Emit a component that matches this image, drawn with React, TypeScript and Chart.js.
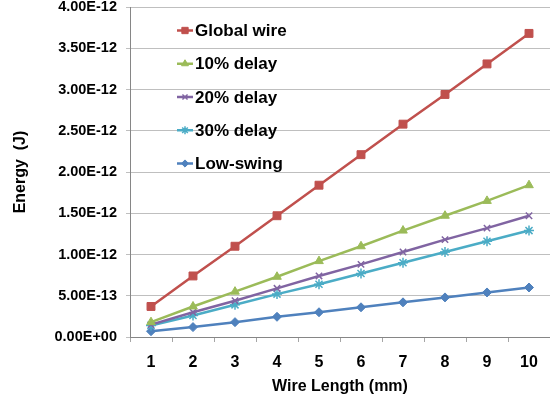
import React, { useEffect, useRef } from "react";
import { Chart, registerables } from "chart.js";
import { drawPoint } from "chart.js/helpers";

Chart.register(...registerables);

// Wire length in mm
const wireLengths = ["1", "2", "3", "4", "5", "6", "7", "8", "9", "10"];

// Energy per transfer in joules
const globalWire = [0.37e-12, 0.74e-12, 1.1e-12, 1.47e-12, 1.84e-12, 2.21e-12, 2.58e-12, 2.94e-12, 3.31e-12, 3.68e-12];
const delay10 = [0.18e-12, 0.37e-12, 0.55e-12, 0.73e-12, 0.92e-12, 1.1e-12, 1.29e-12, 1.47e-12, 1.65e-12, 1.84e-12];
const delay20 = [0.15e-12, 0.3e-12, 0.44e-12, 0.59e-12, 0.74e-12, 0.88e-12, 1.03e-12, 1.18e-12, 1.32e-12, 1.47e-12];
const delay30 = [0.14e-12, 0.26e-12, 0.39e-12, 0.52e-12, 0.64e-12, 0.77e-12, 0.9e-12, 1.03e-12, 1.16e-12, 1.29e-12];
const lowSwing = [0.07e-12, 0.12e-12, 0.18e-12, 0.245e-12, 0.3e-12, 0.36e-12, 0.42e-12, 0.48e-12, 0.54e-12, 0.6e-12];

const FONT = "'Liberation Sans', Arial, Helvetica, sans-serif";

function formatSci(v: number): string {
  const [mant, exp] = v.toExponential(2).split("e");
  const sign = exp.startsWith("-") ? "-" : "+";
  const digits = exp.replace(/[+-]/, "").padStart(2, "0");
  return `${mant}E${sign}${digits}`;
}

// Legend drawn inside the plot area, stacked in the upper-left corner
const insideLegend = {
  id: "insideLegend",
  afterDraw(chart: Chart) {
    const ctx = chart.ctx;
    const x0 = 177;
    const x1 = 193;
    const textX = 195;
    const startY = 30.5;
    const step = 33.25;
    ctx.save();
    chart.data.datasets.forEach((ds: any, i: number) => {
      const y = startY + i * step;
      ctx.strokeStyle = ds.borderColor;
      ctx.lineWidth = 2.5;
      ctx.beginPath();
      ctx.moveTo(x0, y);
      ctx.lineTo(x1, y);
      ctx.stroke();
      ctx.fillStyle = ds.borderColor;
      ctx.strokeStyle = ds.borderColor;
      ctx.lineWidth = ds.pointBorderWidth ?? 1;
      drawPoint(ctx, { pointStyle: ds.pointStyle, radius: ds.pointRadius * 0.8, borderWidth: ds.pointBorderWidth ?? 1, rotation: 0 } as any, (x0 + x1) / 2, y);
      ctx.fillStyle = "#000";
      ctx.font = `bold 17px ${FONT}`;
      ctx.textAlign = "left";
      ctx.textBaseline = "middle";
      ctx.fillText(ds.label, textX, y + 1);
    });
    ctx.restore();
  },
};

export default function App() {
  const canvasRef = useRef<HTMLCanvasElement | null>(null);

  useEffect(() => {
    if (!canvasRef.current) return;
    const series = [
      { label: "Global wire", data: globalWire, color: "#C0504D", style: "rect", r: 5.6, bw: 1 },
      { label: "10% delay", data: delay10, color: "#9BBB59", style: "triangle", r: 5, bw: 1 },
      { label: "20% delay", data: delay20, color: "#8064A2", style: "crossRot", r: 4.5, bw: 1.5 },
      { label: "30% delay", data: delay30, color: "#4BACC6", style: "star", r: 5, bw: 1.5 },
      { label: "Low-swing", data: lowSwing, color: "#4F81BD", style: "rectRot", r: 4.5, bw: 1 },
    ];
    const chart = new Chart(canvasRef.current, {
      type: "line",
      data: {
        labels: wireLengths,
        datasets: series.map((s) => ({
          label: s.label,
          data: s.data,
          borderColor: s.color,
          backgroundColor: s.color,
          pointBackgroundColor: s.color,
          pointBorderColor: s.color,
          pointStyle: s.style as any,
          pointRadius: s.r,
          pointBorderWidth: s.bw,
          borderWidth: 2.5,
          tension: 0,
          fill: false,
          clip: false,
        })),
      },
      options: {
        animation: false,
        responsive: false,
        maintainAspectRatio: false,
        layout: { autoPadding: false, padding: { top: 7, right: 0, bottom: 0, left: 0 } },
        plugins: {
          legend: { display: false },
          tooltip: { enabled: false },
        },
        scales: {
          x: {
            type: "category",
            offset: true,
            grid: {
              display: true,
              offset: true,
              drawOnChartArea: false,
              drawTicks: true,
              tickLength: 5,
              color: "#A6A6A6",
            },
            border: { display: true, color: "#868686", width: 1 },
            ticks: {
              color: "#000",
              padding: 11,
              maxRotation: 0,
              font: { family: FONT, size: 16, weight: "bold" },
            },
            title: {
              display: true,
              text: "Wire Length (mm)",
              color: "#000",
              font: { family: FONT, size: 16, weight: "bold" },
              padding: { top: 0, bottom: 7 },
            },
            afterFit(scale: any) {
              scale.height = 66;
              scale.paddingLeft = 0;
              scale.paddingRight = 0;
            },
          },
          y: {
            type: "linear",
            min: 0,
            max: 4e-12,
            grid: {
              color: "#BFBFBF",
              lineWidth: 1,
              drawTicks: true,
              tickLength: 4,
            },
            border: { display: true, color: "#868686", width: 1 },
            ticks: {
              stepSize: 5e-13,
              color: "#000",
              padding: 9,
              font: { family: FONT, size: 14.5, weight: "bold" },
              callback: (v: any) => formatSci(Number(v)),
            },
            title: {
              display: true,
              text: "Energy  (J)",
              color: "#000",
              font: { family: FONT, size: 16, weight: "bold" },
              padding: { top: 11, bottom: 0 },
            },
            afterFit(scale: any) {
              scale.width = 130;
              scale.paddingTop = 0;
              scale.paddingBottom = 0;
            },
          },
        },
      },
      plugins: [insideLegend],
    });
    return () => chart.destroy();
  }, []);

  return (
    <div style={{ position: "fixed", left: 0, top: 0, width: 550, height: 403, background: "#fff" }}>
      <canvas ref={canvasRef} width={550} height={403} />
    </div>
  );
}
